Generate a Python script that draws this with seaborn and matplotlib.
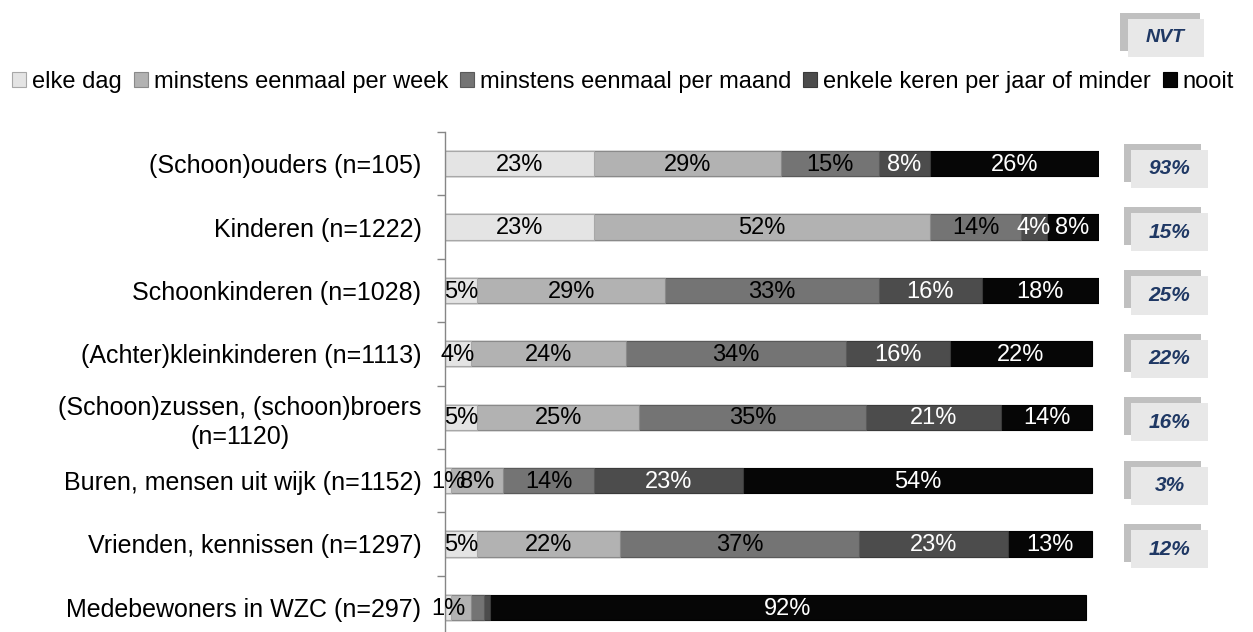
import numpy as np
import pandas as pd
import matplotlib
matplotlib.use("Agg")
import matplotlib.pyplot as plt
import seaborn as sns
from matplotlib.patches import Rectangle, Patch
import matplotlib.transforms as mtransforms

# ---------------- data ----------------
categories = [
    "(Schoon)ouders (n=105)",
    "Kinderen (n=1222)",
    "Schoonkinderen (n=1028)",
    "(Achter)kleinkinderen (n=1113)",
    "(Schoon)zussen, (schoon)broers\n(n=1120)",
    "Buren, mensen uit wijk (n=1152)",
    "Vrienden, kennissen (n=1297)",
    "Medebewoners in WZC (n=297)",
]
series_names = [
    "elke dag",
    "minstens eenmaal per week",
    "minstens eenmaal per maand",
    "enkele keren per jaar of minder",
    "nooit",
]
elke_dag = [23, 23, 5, 4, 5, 1, 5, 1]
per_week = [29, 52, 29, 24, 25, 8, 22, 3]
per_maand = [15, 14, 33, 34, 35, 14, 37, 2]
per_jaar = [8, 4, 16, 16, 21, 23, 23, 1]
nooit = [26, 8, 18, 22, 14, 54, 13, 92]
nvt = [93, 15, 25, 22, 16, 3, 12, None]
hidden_labels = [(7, 1), (7, 2), (7, 3)]  # (row, series) without a label

# ---------------- style ----------------
sns.set_theme(style="white")
plt.rcParams['font.family'] = ['Liberation Sans', 'DejaVu Sans']
plt.rcParams['text.color'] = 'black'
plt.rcParams['ytick.labelcolor'] = 'black'

colors = ['#e4e4e4', '#b2b2b2', '#747474', '#4c4c4c', '#060606']
edges = ['#a8a8a8', '#8a8a8a', '#5a5a5a', '#3a3a3a', '#000000']
text_colors = ['black', 'black', 'black', 'white', 'white']
navy = '#1f3864'

W, H = 1253, 632
fig = plt.figure(figsize=(W / 100, H / 100), dpi=100)
fig.patch.set_facecolor('white')
ax = fig.add_axes([445 / W, 1 - 639 / H, 653.5 / W, 507 / H])

series = np.array([elke_dag, per_week, per_maand, per_jaar, nooit], dtype=float)
cum = np.cumsum(series, axis=0)

for k in reversed(range(len(series_names))):
    df = pd.DataFrame({'cat': categories, 'val': cum[k]})
    sns.barplot(data=df, x='val', y='cat', orient='h', color=colors[k],
                saturation=1, width=0.4, edgecolor=edges[k], linewidth=0.8,
                ax=ax, order=categories)

# segment labels
for i in range(len(categories)):
    for k in range(len(series_names)):
        if (i, k) in hidden_labels:
            continue
        v = series[k][i]
        ax.text(cum[k][i] - v / 2, i + 0.02, f"{int(v)}%", ha='center',
                va='center', fontsize=17, color=text_colors[k])

ax.set_xlim(0, 101)
ax.set_ylim(len(categories) - 0.5, -0.5)
ax.set_xlabel('')
ax.set_ylabel('')
ax.set_xticks([])
ax.set_yticks(range(len(categories)))
ax.set_yticklabels(categories, fontsize=18, multialignment='center',
                   linespacing=1.3, color='black')
ax.set_yticks(np.arange(-0.5, len(categories), 1), minor=True)
ax.tick_params(axis='y', which='major', length=0, pad=17)
ax.tick_params(axis='y', which='minor', left=True, length=6, width=1,
               color='#868686', direction='out')
for s in ['top', 'right', 'bottom']:
    ax.spines[s].set_visible(False)
ax.spines['left'].set_color('#868686')
ax.spines['left'].set_linewidth(1)

# NVT boxes per row
trans = mtransforms.blended_transform_factory(fig.transFigure, ax.transData)
for i, v in enumerate(nvt):
    if v is None:
        continue
    yc = i + 0.08
    back = Rectangle((1124 / W, yc - 0.3 - 0.095), 77 / W, 0.6, transform=trans,
                     facecolor='#c0c0c0', edgecolor='none', clip_on=False)
    front = Rectangle((1131 / W, yc - 0.3), 77 / W, 0.6, transform=trans,
                      facecolor='#e8e8e8', edgecolor='none', clip_on=False)
    ax.add_patch(back)
    ax.add_patch(front)
    ax.text(1169.5 / W, yc, f"{v}%", transform=trans, ha='center', va='center',
            fontsize=15, fontweight='bold', fontstyle='italic', color=navy,
            clip_on=False)

# NVT header box
fig.patches.append(Rectangle((1120 / W, 1 - 51 / H), 80 / W, 38 / H,
                             transform=fig.transFigure, facecolor='#c0c0c0',
                             edgecolor='none'))
fig.patches.append(Rectangle((1128 / W, 1 - 57 / H), 76 / W, 38 / H,
                             transform=fig.transFigure, facecolor='#e8e8e8',
                             edgecolor='none'))
fig.text(1165 / W, 1 - 38 / H, "NVT", ha='center', va='center', fontsize=14,
         fontweight='bold', fontstyle='italic', color=navy)

# legend
handles = [Patch(facecolor=colors[k], edgecolor=edges[k], linewidth=0.8)
           for k in range(len(series_names))]
fig.legend(handles, series_names, loc='center left',
           bbox_to_anchor=(12 / W, 1 - 82 / H), ncol=5, frameon=False,
           fontsize=17, handlelength=0.6, handleheight=0.6,
           handletextpad=0.25, columnspacing=0.5, borderaxespad=0,
           borderpad=0, labelcolor='black')

fig.savefig('out.png', dpi=100, facecolor='white')
